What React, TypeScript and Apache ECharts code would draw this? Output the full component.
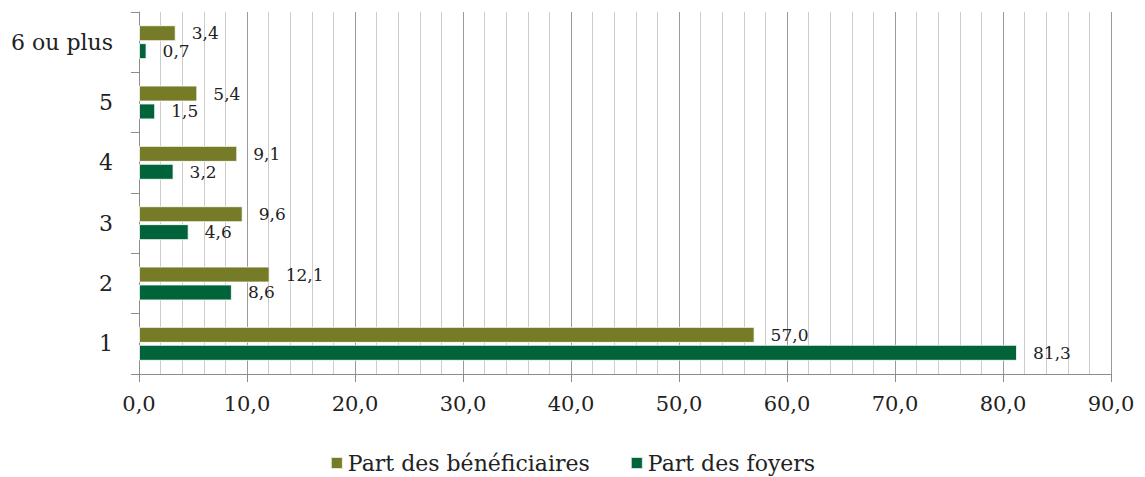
import React, { useEffect, useRef } from "react";
import * as echarts from "echarts";

const categories = ["1", "2", "3", "4", "5", "6 ou plus"];
const beneficiaires = [57.0, 12.1, 9.6, 9.1, 5.4, 3.4];
const foyers = [81.3, 8.6, 4.6, 3.2, 1.5, 0.7];
const seriesNames = ["Part des bénéficiaires", "Part des foyers"];

const FONT = "DejaVu Serif";
const fmt = (v: number) => v.toFixed(1).replace(".", ",");

export default function App() {
  const ref = useRef<HTMLDivElement>(null);
  useEffect(() => {
    if (!ref.current) return;
    const chart = echarts.init(ref.current, null, { renderer: "svg" });
    const label = {
      show: true,
      position: "right",
      distance: 16,
      fontFamily: FONT,
      fontSize: 17,
      color: "#222",
      formatter: (p: any) => fmt(p.value),
    };
    chart.setOption({
      animation: false,
      backgroundColor: "#fff",
      textStyle: { fontFamily: FONT },
      grid: { left: 139, right: 34, top: 12, bottom: 103, containLabel: false },
      legend: {
        data: seriesNames,
        top: 447,
        left: "center",
        itemWidth: 12,
        itemHeight: 12,
        itemGap: 40,
        icon: "rect",
        textStyle: { fontFamily: FONT, fontSize: 22, color: "#222" },
      },
      xAxis: {
        type: "value",
        min: 0,
        max: 90,
        interval: 10,
        axisLine: { show: true, lineStyle: { color: "#8c8c8c" } },
        axisTick: { show: true, length: 8, lineStyle: { color: "#8c8c8c" } },
        axisLabel: {
          margin: 19,
          fontFamily: FONT,
          fontSize: 21,
          color: "#222",
          formatter: (v: number) => fmt(v),
        },
        splitLine: { show: true, lineStyle: { color: "#9a9a9a" } },
        minorTick: { show: false, splitNumber: 5 },
        minorSplitLine: { show: true, lineStyle: { color: "#cccccc" } },
      },
      yAxis: {
        type: "category",
        data: categories,
        axisLine: { show: true, lineStyle: { color: "#8c8c8c" } },
        axisTick: { show: true, length: 8, lineStyle: { color: "#8c8c8c" } },
        axisLabel: { margin: 26, fontFamily: FONT, fontSize: 22, color: "#222" },
        splitLine: { show: false },
      },
      series: [
        {
          name: seriesNames[0],
          type: "bar",
          data: beneficiaires,
          barWidth: 16,
          barGap: "12%",
          itemStyle: { color: "#757b27", borderColor: "rgba(255,255,255,0.8)", borderWidth: 1 },
          label,
        },
        {
          name: seriesNames[1],
          type: "bar",
          data: foyers,
          barWidth: 16,
          barGap: "12%",
          itemStyle: { color: "#00633a", borderColor: "rgba(255,255,255,0.8)", borderWidth: 1 },
          label,
        },
      ],
    });
    return () => chart.dispose();
  }, []);
  return (
    <div
      ref={ref}
      style={{ position: "absolute", left: 0, top: 0, width: 1145, height: 477 }}
    />
  );
}
